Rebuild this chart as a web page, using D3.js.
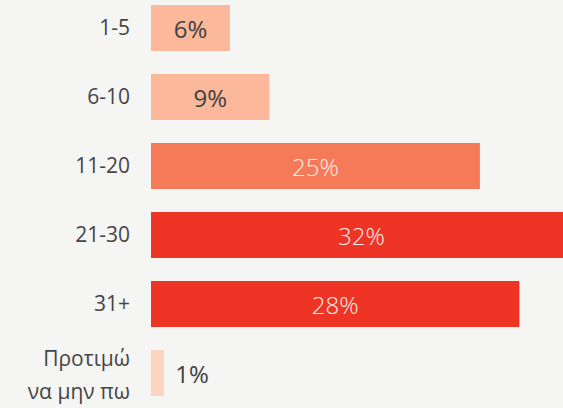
<!DOCTYPE html>
<html>
<head>
<meta charset="utf-8">
<script src="https://cdn.jsdelivr.net/npm/d3@7"></script>
<style>
  html, body { margin: 0; padding: 0; background: #f5f5f4; }
  svg { display: block; }
</style>
</head>
<body>
<div id="chart"></div>
<script>
const categories = ["1-5", "6-10", "11-20", "21-30", "31+", "Προτιμώ να μην πω"];
const values = [6, 9, 25, 32, 28, 1];
const barColors = ["#fbb89b", "#fbb89b", "#f57b58", "#ee3424", "#ee3424", "#fdd5c3"];
const labelColors = ["#404040", "#404040", "#fdeee8", "#fdeee8", "#fdeee8", "#404040"];

const W = 563, H = 408;
const svg = d3.select("#chart").append("svg").attr("width", W).attr("height", H);
svg.append("rect").attr("width", W).attr("height", H).attr("fill", "#f5f5f4");

const x = d3.scaleLinear().domain([0, 32]).range([151, 572]);
const y = d3.scaleBand().domain(categories).range([5, 396]).paddingInner(1 / 3).paddingOuter(0);

const font = "'Open Sans', 'Noto Sans', sans-serif";
const data = categories.map((c, i) => ({ c, v: values[i], color: barColors[i], tc: labelColors[i] }));

svg.selectAll("rect.bar").data(data).join("rect")
  .attr("class", "bar")
  .attr("x", x(0))
  .attr("y", d => y(d.c))
  .attr("width", d => x(d.v) - x(0))
  .attr("height", y.bandwidth())
  .attr("fill", d => d.color);

// category labels (wrapped)
const maxLabelW = 110;
const cat = svg.selectAll("text.cat").data(data).join("text")
  .attr("class", "cat")
  .attr("text-anchor", "end")
  .attr("font-family", font)
  .attr("font-size", 21)
  .attr("fill", "#454545");

cat.each(function(d) {
  const t = d3.select(this);
  const words = d.c.split(" ");
  const lines = [];
  let line = [];
  const tmp = t.append("tspan");
  words.forEach(w => {
    line.push(w);
    tmp.text(line.join(" "));
    if (tmp.node().getComputedTextLength() > maxLabelW && line.length > 1) {
      line.pop();
      lines.push(line.join(" "));
      line = [w];
    }
  });
  lines.push(line.join(" "));
  tmp.remove();
  const lh = 33;
  const cy = y(d.c) + y.bandwidth() / 2 + (lines.length > 1 ? 2 : 0);
  lines.forEach((l, i) => {
    t.append("tspan")
      .attr("x", 130)
      .attr("y", cy + (i - (lines.length - 1) / 2) * lh)
      .attr("dy", "0.35em")
      .text(l);
  });
});

// value labels
svg.selectAll("text.val").data(data).join("text")
  .attr("class", "val")
  .attr("font-family", font)
  .attr("font-size", 24)
  .attr("dy", "0.42em")
  .attr("y", d => y(d.c) + y.bandwidth() / 2)
  .each(function(d) {
    const t = d3.select(this).text(d.v + "%");
    const tw = this.getComputedTextLength();
    const bw = x(d.v) - x(0);
    if (bw > tw + 16) {
      t.attr("x", (x(0) + x(d.v)) / 2).attr("text-anchor", "middle").attr("fill", d.tc)
        .attr("font-weight", d.tc === "#404040" ? 400 : 300);
    } else {
      t.attr("x", x(d.v) + 11).attr("text-anchor", "start").attr("fill", "#404040")
        .attr("font-weight", 400);
    }
  });
</script>
</body>
</html>
